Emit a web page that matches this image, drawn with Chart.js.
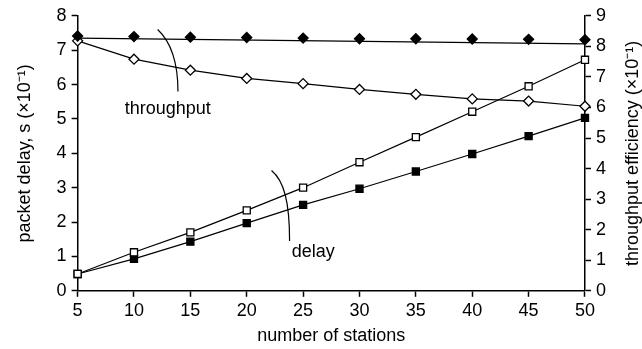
<!DOCTYPE html>
<html>
<head>
<meta charset="utf-8">
<script src="https://cdn.jsdelivr.net/npm/chart.js@4.4.1/dist/chart.umd.min.js"></script>
<style>
  html, body { margin: 0; padding: 0; background: #fff; }
  #wrap { width: 642px; height: 349px; position: relative; }
</style>
</head>
<body>
<div id="wrap"><canvas id="chart"></canvas></div>
<script>
const stations = [5, 10, 15, 20, 25, 30, 35, 40, 45, 50];

// delay, left axis (x10^-1 s)
const delayOpen = [0.49, 1.12, 1.70, 2.34, 3.00, 3.74, 4.47, 5.21, 5.95, 6.72];
const delayFilled = [0.49, 0.93, 1.43, 1.97, 2.50, 2.97, 3.47, 3.98, 4.50, 5.03];

// throughput efficiency, right axis (x10^-1)
const thrOpen = [8.18, 7.58, 7.22, 6.95, 6.78, 6.59, 6.43, 6.28, 6.21, 6.04];
const thrFilled = [8.34, 8.32, 8.30, 8.29, 8.27, 8.25, 8.25, 8.24, 8.23, 8.22];
const thrFilledLineX = [5, 50];
const thrFilledLine = [8.27, 8.08];

const xTicks = [5, 10, 15, 20, 25, 30, 35, 40, 45, 50];
const leftTicks = [0, 1, 2, 3, 4, 5, 6, 7, 8];
const rightTicks = [0, 1, 2, 3, 4, 5, 6, 7, 8, 9];

// callouts: label position and leader curve, in data units (x, left axis)
const callouts = [
  { text: "throughput", at: [13.0, 5.3], curve: [[12.1, 7.6], [13.4, 7.2], [13.9, 6.6], [13.9, 5.8]] },
  { text: "delay", at: [25.9, 1.13], curve: [[22.2, 3.5], [23.3, 3.2], [23.8, 2.6], [23.8, 1.45]] }
];

const FONT = "'Liberation Sans', Arial, Helvetica, sans-serif";
const SIZE = 18;
const pts = (xs, ys) => xs.map((x, i) => ({ x, y: ys[i] }));

const calloutPlugin = {
  id: "callouts",
  afterDatasetsDraw(chart) {
    const { ctx, scales } = chart;
    const sx = scales.x, sy = scales.y;
    ctx.save();
    ctx.strokeStyle = "#000";
    ctx.lineWidth = 1.2;
    ctx.fillStyle = "#000";
    ctx.font = SIZE + "px " + FONT;
    ctx.textAlign = "center";
    ctx.textBaseline = "middle";
    callouts.forEach(c => {
      const p = c.curve.map(([x, y]) => [sx.getPixelForValue(x), sy.getPixelForValue(y)]);
      ctx.beginPath();
      ctx.moveTo(p[0][0], p[0][1]);
      ctx.bezierCurveTo(p[1][0], p[1][1], p[2][0], p[2][1], p[3][0], p[3][1]);
      ctx.stroke();
      ctx.fillText(c.text, sx.getPixelForValue(c.at[0]), sy.getPixelForValue(c.at[1]));
    });
    // right axis title, reading bottom to top
    const y2 = scales.y2;
    ctx.translate(chart.width - 9, (y2.top + y2.bottom) / 2);
    ctx.rotate(-Math.PI / 2);
    ctx.fillText("throughput efficiency (×10⁻¹)", 0, 0);
    ctx.restore();
  }
};

const lineDs = (data, axis, style, fill, extra) => Object.assign({
  data, yAxisID: axis,
  borderColor: "#000", borderWidth: 1.2,
  pointStyle: style, pointRadius: 5, pointHoverRadius: 5,
  pointBackgroundColor: fill, pointBorderColor: "#000", pointBorderWidth: 1.3,
  tension: 0, fill: false
}, extra || {});

new Chart(document.getElementById("chart"), {
  type: "line",
  data: {
    datasets: [
      lineDs(pts(thrFilledLineX, thrFilledLine), "y2", false, "#000", { pointRadius: 0 }),
      lineDs(pts(stations, thrFilled), "y2", "rectRot", "#000", { showLine: false }),
      lineDs(pts(stations, thrOpen), "y2", "rectRot", "#fff"),
      lineDs(pts(stations, delayOpen), "y", "rect", "#fff"),
      lineDs(pts(stations, delayFilled), "y", "rect", "#000")
    ]
  },
  options: {
    animation: false,
    responsive: true,
    maintainAspectRatio: false,
    events: [],
    clip: false,
    layout: { padding: { left: 14, right: 31, top: 6, bottom: 2 } },
    plugins: { legend: { display: false }, tooltip: { enabled: false } },
    scales: {
      x: {
        type: "linear", min: 5, max: 50,
        afterBuildTicks: s => { s.ticks = xTicks.map(v => ({ value: v })); },
        border: { color: "#000", width: 1.5 },
        grid: { drawOnChartArea: false, tickLength: 6, tickColor: "#000", tickWidth: 1.5 },
        ticks: { color: "#000", font: { family: FONT, size: SIZE }, padding: 3, maxRotation: 0 },
        title: { display: true, text: "number of stations", color: "#000", font: { family: FONT, size: SIZE }, padding: { top: 1, bottom: 0 } }
      },
      y: {
        position: "left", min: 0, max: 8,
        afterBuildTicks: s => { s.ticks = leftTicks.map(v => ({ value: v })); },
        border: { color: "#000", width: 1.5 },
        grid: { drawOnChartArea: false, tickLength: 6, tickColor: "#000", tickWidth: 1.5 },
        ticks: { color: "#000", font: { family: FONT, size: SIZE }, padding: 5 },
        title: { display: true, text: "packet delay, s (×10⁻¹)", color: "#000", font: { family: FONT, size: SIZE }, padding: { top: 0, bottom: 16 } }
      },
      y2: {
        position: "right", min: 0, max: 9,
        afterBuildTicks: s => { s.ticks = rightTicks.map(v => ({ value: v })); },
        border: { color: "#000", width: 1.5 },
        grid: { drawOnChartArea: false, tickLength: 6, tickColor: "#000", tickWidth: 1.5 },
        ticks: { color: "#000", font: { family: FONT, size: SIZE }, padding: 5 }
      }
    }
  },
  plugins: [calloutPlugin]
});
</script>
</body>
</html>
